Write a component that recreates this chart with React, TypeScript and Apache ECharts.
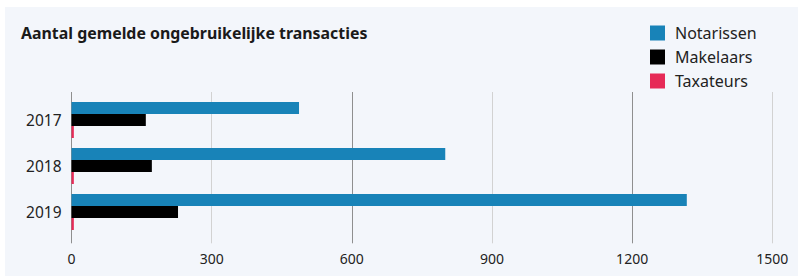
import React, { useEffect, useRef } from "react";
import * as echarts from "echarts";

const years = ["2017", "2018", "2019"];
const seriesNames = ["Notarissen", "Makelaars", "Taxateurs"];
const notarissen = [487, 800, 1317];
const makelaars = [159, 172, 228];
const taxateurs = [5, 5, 5];
const xTicks = { min: 0, max: 1500, interval: 300 };
const title = "Aantal gemelde ongebruikelijke transacties";

const colors = ["#1883b8", "#000000", "#e62a57"];
const FONT = "'Noto Sans', 'Open Sans', sans-serif";

export default function App() {
  const ref = useRef<HTMLDivElement>(null);
  useEffect(() => {
    if (!ref.current) return;
    const chart = echarts.init(ref.current, undefined, { renderer: "svg" });
    const values = [notarissen, makelaars, taxateurs];
    chart.setOption({
      animation: false,
      backgroundColor: "#f3f6fb",
      textStyle: { fontFamily: FONT },
      title: {
        text: title,
        left: 16,
        top: 18,
        padding: 0,
        textStyle: { fontFamily: FONT, fontSize: 15.9, fontWeight: "bold", color: "#1a1a1a" },
      },
      legend: {
        orient: "vertical",
        left: 645,
        top: 18,
        padding: 0,
        itemWidth: 15,
        itemHeight: 15,
        itemGap: 8,
        icon: "rect",
        data: seriesNames,
        textStyle: { fontFamily: FONT, fontSize: 16, color: "#222", padding: [0, 0, 0, 5] },
      },
      grid: [
        { left: 66.5, right: 25.7, top: 85, height: 151.3, containLabel: false },
        { left: 66.5, right: 25.7, top: 90, height: 138, containLabel: false },
      ],
      xAxis: [
        {
          gridIndex: 0,
          type: "value",
          min: xTicks.min,
          max: xTicks.max,
          interval: xTicks.interval,
          axisLine: { show: false },
          axisTick: { show: false },
          axisLabel: {
            fontFamily: FONT,
            fontSize: 14,
            color: "#222",
            margin: 8,
            formatter: (v: number) => String(v),
          },
          splitLine: { show: true, lineStyle: { color: ["#8f8f8f", "#d2d2d2"], width: 1 } },
        },
        {
          gridIndex: 1,
          type: "value",
          min: xTicks.min,
          max: xTicks.max,
          interval: xTicks.interval,
          show: false,
          splitLine: { show: false },
        },
      ],
      yAxis: [
        { gridIndex: 0, type: "value", min: 0, max: 1, show: false, splitLine: { show: false } },
        {
          gridIndex: 1,
          type: "category",
          data: years,
          inverse: true,
          axisLine: { show: false },
          axisTick: { show: false },
          axisLabel: { fontFamily: FONT, fontSize: 15.5, color: "#222", margin: 10 },
        },
      ],
      series: seriesNames.map((name, i) => ({
        name,
        type: "bar",
        xAxisIndex: 1,
        yAxisIndex: 1,
        data: values[i],
        barWidth: 12,
        barGap: "0%",
        itemStyle: { color: colors[i] },
      })),
    });
    return () => chart.dispose();
  }, []);
  return (
    <div style={{ position: "fixed", left: 0, top: 0, width: 798, height: 276, background: "#ffffff" }}>
      <div ref={ref} style={{ position: "absolute", left: 5, top: 7, width: 793, height: 269 }} />
    </div>
  );
}
